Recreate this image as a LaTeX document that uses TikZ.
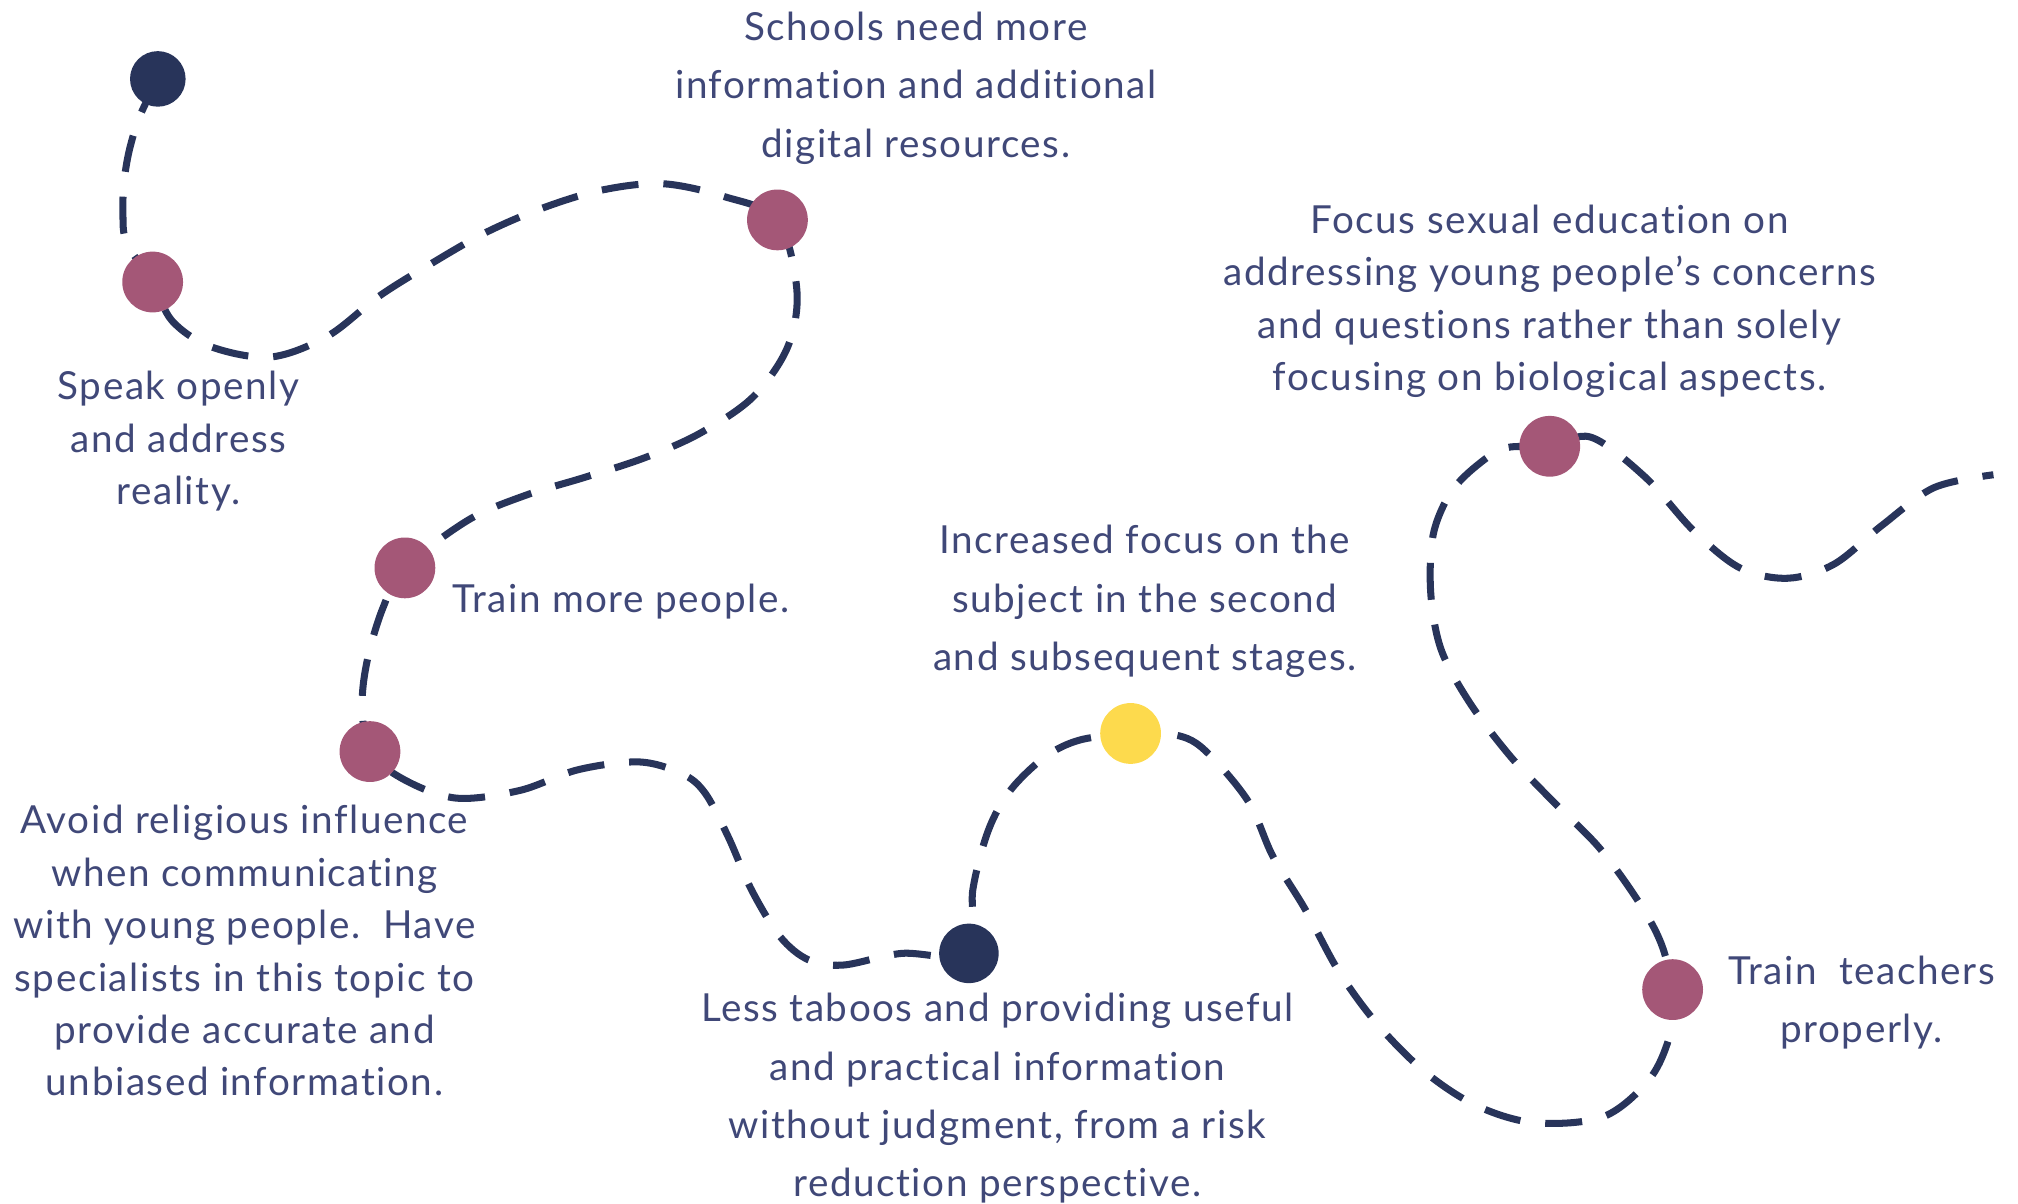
\documentclass[tikz,border=0pt]{standalone}
\usepackage{fontspec}
\setmainfont[Ligatures=NoCommon, LetterSpace=4]{Lato}
\usetikzlibrary{backgrounds}
\definecolor{trail}{HTML}{28345A}
\definecolor{stop_pink}{HTML}{A45777}
\definecolor{stop_gold}{HTML}{FDDA4D}
\definecolor{ink}{HTML}{404878}
\tikzstyle{stop}=[circle,
                  minimum size=0.608cm,
                  inner sep=0pt,
                  draw=none]
\tikzstyle{trail_line}=[draw=trail,
                        line width=2pt,
                        dash pattern=on 0.37cm off 0.25cm]
\tikzstyle{note_wide}=[align=center,
                       inner sep=0pt,
                       text=ink,
                       font=\fontsize{11}{16.6}\selectfont]
\tikzstyle{note_tight}=[align=center,
                        inner sep=0pt,
                        text=ink,
                        font=\fontsize{11}{14.9}\selectfont]

\begin{document}
\begin{tikzpicture}[x=0.012936cm, y=-0.012936cm]
  \useasboundingbox (0,0) rectangle (1560,930);

  \node at (122, 61) (D1) [stop, fill=trail, minimum size=0.556cm] {};
  \node at (118, 218) (P1) [stop, fill=stop_pink] {};
  \node at (601, 170) (P2) [stop, fill=stop_pink] {};
  \node at (313, 439) (P3) [stop, fill=stop_pink] {};
  \node at (286, 581) (P4) [stop, fill=stop_pink] {};
  \node at (749, 737) (D2) [stop, fill=trail, minimum size=0.595cm] {};
  \node at (874, 567) (Y1) [stop, fill=stop_gold] {};
  \node at (1293, 765) (P6) [stop, fill=stop_pink] {};
  \node at (1198, 345) (P5) [stop, fill=stop_pink] {};
  \coordinate (E) at (1541, 367);

  \begin{pgfonlayer}{background}
    \draw[trail_line] plot[smooth, tension=0.55] coordinates {
      (D1.center) (108,90) (100,116) (96,140) (95,165) (98,188)
      (P1.center) (133,248) (163,268) (209,276) (253,260) (293,229)
      (333,204) (375,180) (419,161) (465,147) (512,142) (560,152)
      (P2.center) (616,224) (609,268) (582,307) (541,335) (498,354)
      (452,369) (406,383) (362,402)
      (P3.center) (296,470) (284,510) (280,545)
      (P4.center) (313,603) (353,617) (402,611) (447,595) (494,589)
      (527,598) (545,613) (563,647) (581,688) (603,724) (625,742)
      (652,746) (697,737)
      (D2.center) (752,688) (764,642) (781,611) (808,585) (835,572)
      (Y1.center) (902,567) (928,577) (964,618) (984,662) (1009,703)
      (1035,751) (1065,792) (1102,829) (1142,855) (1187,868) (1240,863)
      (1276,833) (1292,796)
      (P6.center) (1284,729) (1266,696) (1236,655) (1199,618) (1167,584)
      (1136,543) (1114,502) (1106,458) (1108,413) (1122,380) (1144,358)
      (1165,346)
      (P5.center) (1230,338) (1272,369) (1309,410) (1345,439) (1382,447)
      (1418,436) (1455,406) (1495,377) (E)
    };
  \end{pgfonlayer}

  \node at (708, 68) (T1) [note_wide] {Schools need more\\information and additional\\digital resources.};
  \node at (138, 341) (T2) [note_tight] {Speak openly\\and address\\reality.};
  \node at (349, 465) (T3) [note_wide, anchor=west] {Train more people.};
  \node at (189, 735) (T4) [note_tight] {Avoid religious influence\\when communicating\\with young people.\ \ Have\\specialists in this topic to\\provide accurate and\\unbiased information.};
  \node at (771, 849) (T5) [note_wide] {Less taboos and providing useful\\and practical information\\without judgment, from a risk\\reduction perspective.};
  \node at (885, 465) (T6) [note_wide] {Increased focus on the\\subject in the second\\and subsequent stages.};
  \node at (1198, 233) (T7) [note_tight] {Focus sexual education on\\addressing young people{\char"27}s concerns\\and questions rather than solely\\focusing on biological aspects.};
  \node at (1439, 775) (T8) [note_wide] {Train\ \ teachers\\properly.};
\end{tikzpicture}
\end{document}
